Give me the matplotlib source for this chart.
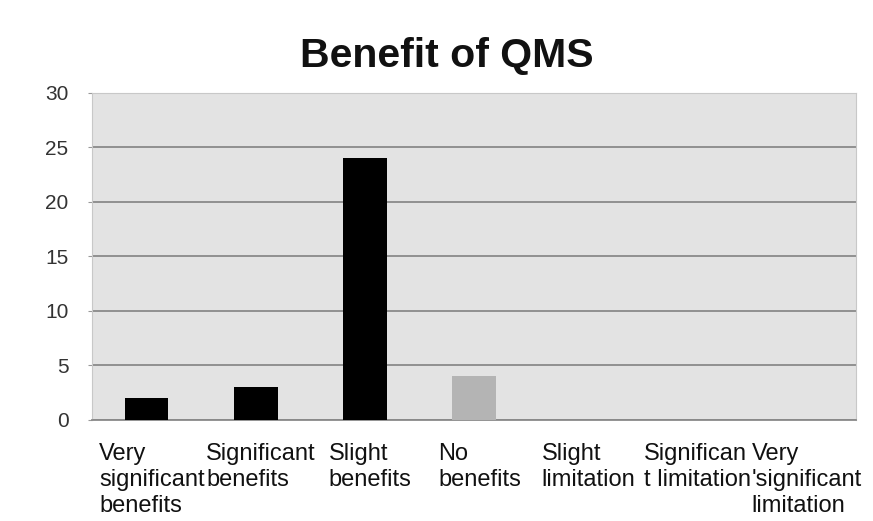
import matplotlib.pyplot as plt
import numpy as np

# Benefit of QMS survey counts
categories = ['Very\nsignificant\nbenefits', 'Significant\nbenefits', 'Slight\nbenefits',
              'No\nbenefits', 'Slight\nlimitation', 'Significan\nt limitation',
              "Very\n'significant\nlimitation"]
counts = [2, 3, 24, 4, 0, 0, 0]
bar_colors = ['#000000', '#000000', '#000000', '#b4b4b4', '#000000', '#000000', '#000000']
yticks = [0, 5, 10, 15, 20, 25, 30]

plt.rcParams['font.family'] = ['Liberation Sans', 'DejaVu Sans']

fig = plt.figure(figsize=(8.73, 5.21), dpi=100)
ax = fig.add_axes([0.1054, 0.1939, 0.8751, 0.6276])
ax.set_facecolor('#e3e3e3')

x = np.arange(len(categories))
ax.bar(x, counts, width=0.4, color=bar_colors, zorder=3)

ax.set_xlim(-0.5, len(categories) - 0.5)
ax.set_ylim(0, 30)
ax.set_yticks(yticks)
ax.set_yticklabels([str(t) for t in yticks], fontsize=15, color='#333333')
ax.tick_params(axis='y', length=3, color='#999999', pad=14)
ax.grid(axis='y', color='#8a8a8a', linewidth=1.3, zorder=1)

ax.set_xticks(x)
ax.set_xticklabels([])
ax.tick_params(axis='x', length=0)
for i, lab in enumerate(categories):
    ax.text(i + 0.05, -0.07, lab, transform=ax.get_xaxis_transform(),
            ha='center', va='top', multialignment='left', fontsize=17,
            linespacing=1.25, color='#111111')

for side in ['top', 'right', 'left']:
    ax.spines[side].set_color('#c8c8c8')
ax.spines['bottom'].set_color('#8a8a8a')
ax.spines['bottom'].set_linewidth(1.3)

fig.text(0.512, 0.893, 'Benefit of QMS', ha='center', va='center',
         fontsize=29.5, fontweight='bold', color='#111111')

fig.savefig('out.png', dpi=100)
